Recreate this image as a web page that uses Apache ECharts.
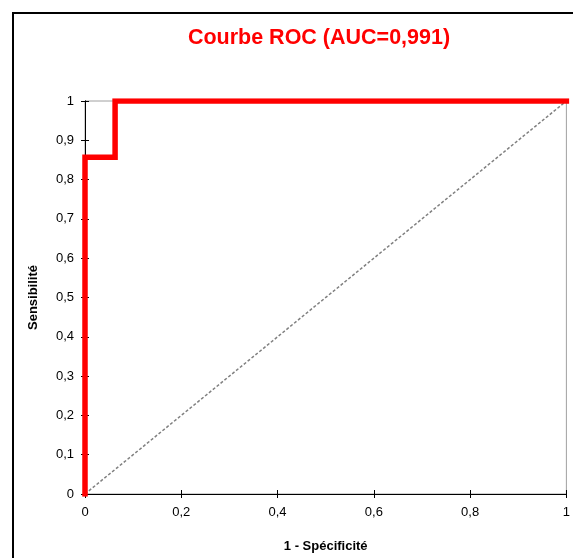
<!DOCTYPE html>
<html><head><meta charset="utf-8">
<script src="https://cdn.jsdelivr.net/npm/echarts@6/dist/echarts.min.js"></script>
<style>html,body{margin:0;padding:0;background:#fff}#c{width:573px;height:558px}</style>
</head><body><div id="c"></div>
<script>
const titleText = "Courbe ROC (AUC=0,991)";
const xName = "1 - Spécificité";
const yName = "Sensibilité";
const rocX = [0, 0, 0.0625, 0.0625, 1];
const rocY = [0, 0.857, 0.857, 1, 1];
const diagX = [0, 1];
const diagY = [0, 1];
const tickLabel = v => String(v).replace('.', ',');

const chart = echarts.init(document.getElementById('c'));
const font = 'Liberation Sans, Arial, sans-serif';
const baseAxis = {
  min: 0, max: 1, interval: 0.2,
  axisLine: {show: true, lineStyle: {color: '#000', width: 1}},
  splitLine: {show: false}
};
chart.setOption({
  animation: false,
  title: {text: titleText, left: 314, top: 22, textAlign: 'center',
    textStyle: {color: '#ff0000', fontFamily: font, fontSize: 21.5, fontWeight: 'bold'}},
  graphic: [{type: 'rect', shape: {x: 13, y: 13, width: 600, height: 600},
    style: {fill: 'none', stroke: '#000', lineWidth: 2}, z: 100}],
  grid: {left: 85, right: 4, top: 101, bottom: 63, show: true, borderColor: '#a0a0a0', borderWidth: 1},
  xAxis: [
    Object.assign({}, baseAxis, {type: 'value', position: 'bottom',
      name: xName, nameLocation: 'middle', nameGap: 46,
      nameTextStyle: {fontFamily: font, fontSize: 13, fontWeight: 'bold', color: '#000'},
      axisTick: {show: true, inside: false, length: 4, lineStyle: {color: '#000'}},
      axisLabel: {fontFamily: font, fontSize: 13, color: '#000', margin: 12, formatter: tickLabel}}),
    Object.assign({}, baseAxis, {type: 'value', position: 'bottom',
      axisTick: {show: true, inside: true, length: 4, lineStyle: {color: '#000'}},
      axisLabel: {show: false}})
  ],
  yAxis: [
    Object.assign({}, baseAxis, {type: 'value', interval: 0.1, position: 'left',
      name: yName, nameLocation: 'middle', nameGap: 45, nameRotate: 90,
      nameTextStyle: {fontFamily: font, fontSize: 13, fontWeight: 'bold', color: '#000'},
      axisTick: {show: true, inside: false, length: 4, lineStyle: {color: '#000'}},
      axisLabel: {fontFamily: font, fontSize: 13, color: '#000', margin: 11, formatter: tickLabel}}),
    Object.assign({}, baseAxis, {type: 'value', interval: 0.1, position: 'left',
      axisTick: {show: true, inside: true, length: 4, lineStyle: {color: '#000'}},
      axisLabel: {show: false}})
  ],
  series: [
    {type: 'line', data: diagX.map((x, i) => [x, diagY[i]]), showSymbol: false, z: 2,
      lineStyle: {color: '#808080', width: 1.5, type: [3, 2]}},
    {type: 'line', data: rocX.map((x, i) => [x, rocY[i]]), showSymbol: false, z: 3,
      lineStyle: {color: '#ff0000', width: 5.5, join: 'miter', cap: 'square'}}
  ]
});
</script></body></html>
